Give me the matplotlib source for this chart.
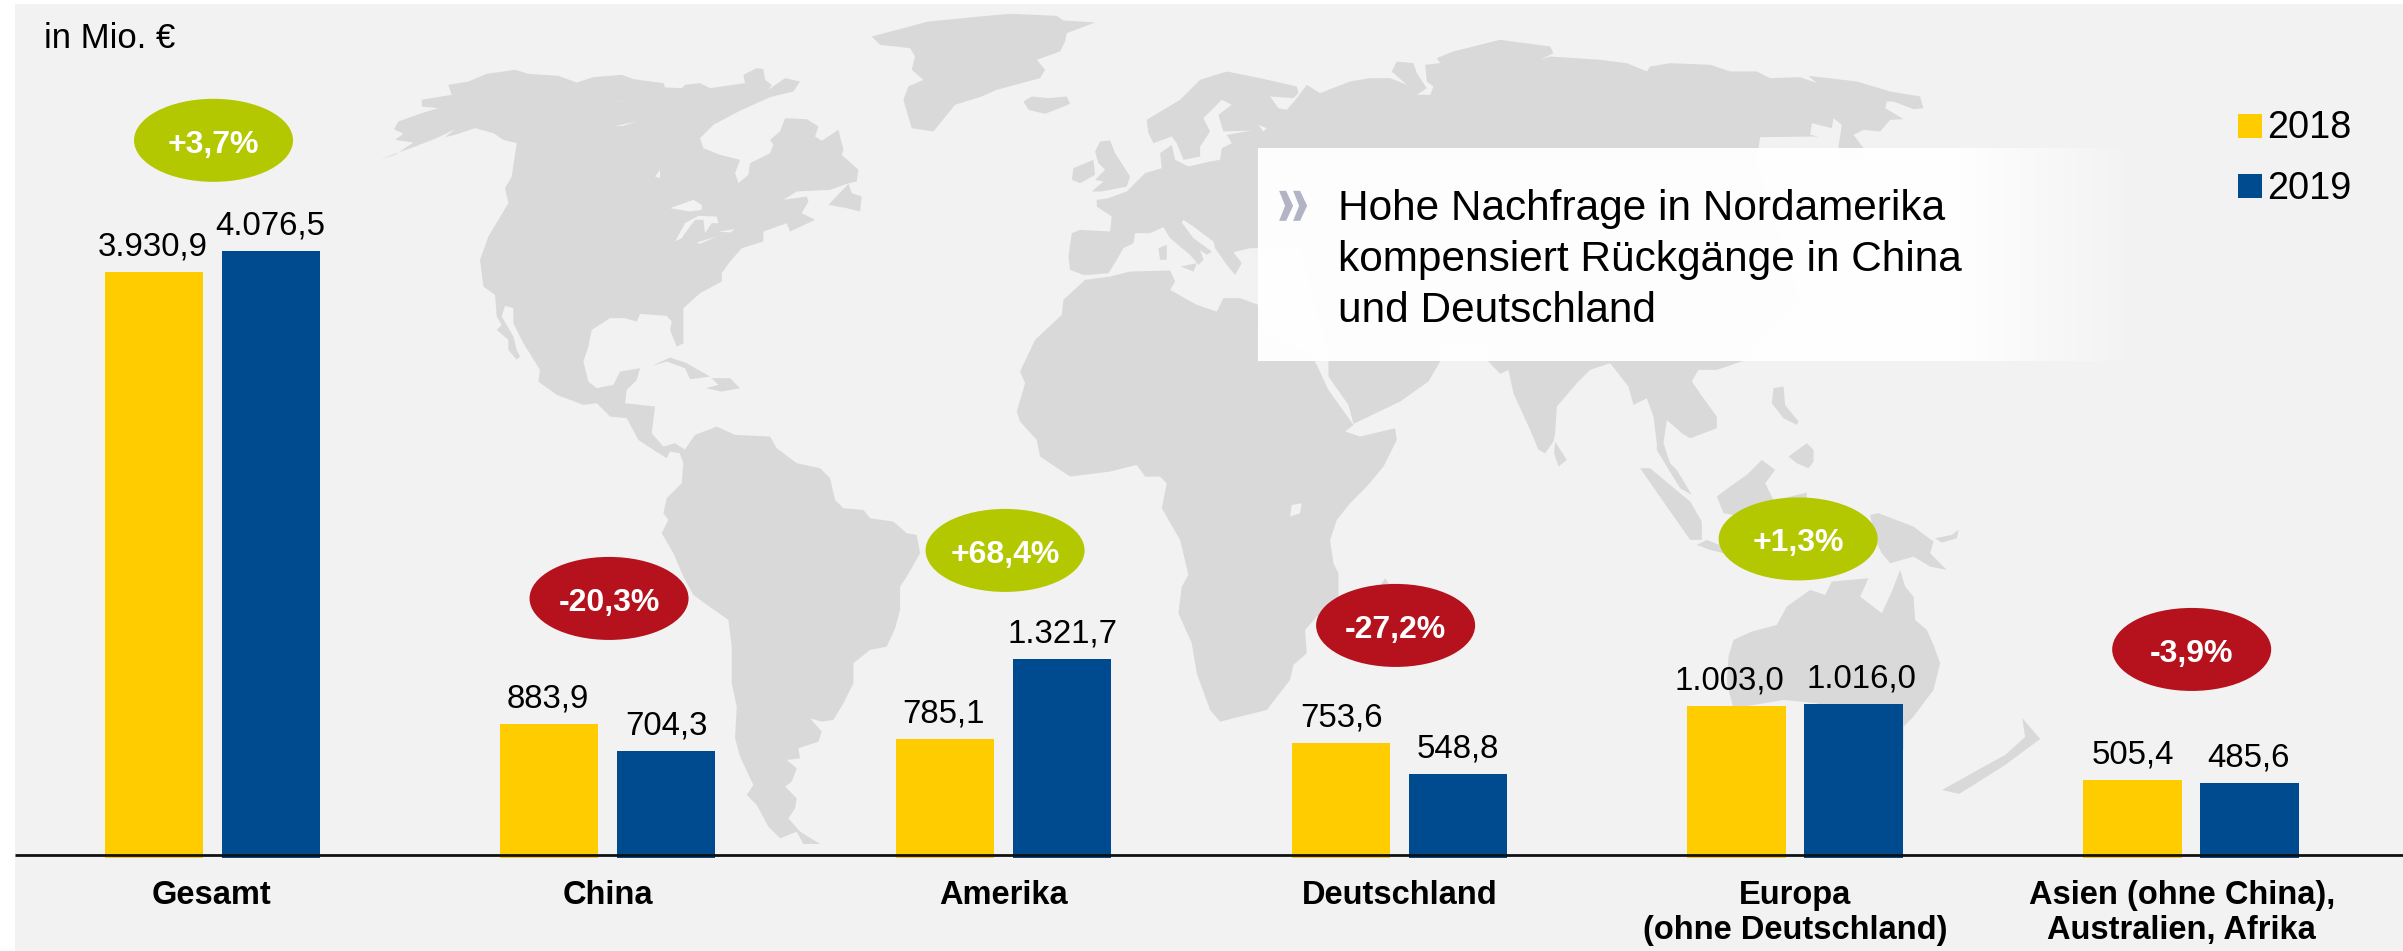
import numpy as np
import matplotlib
matplotlib.use("Agg")
import matplotlib.pyplot as plt
from matplotlib.patches import Ellipse, Polygon, Rectangle

plt.rcParams["font.family"] = ["Liberation Sans", "DejaVu Sans"]

# Chart values
categories = ["Gesamt", "China", "Amerika", "Deutschland", "Europa\n(ohne Deutschland)",
              "Asien (ohne China),\nAustralien, Afrika"]
values_2018 = [3930.9, 883.9, 785.1, 753.6, 1003.0, 505.4]
values_2019 = [4076.5, 704.3, 1321.7, 548.8, 1016.0, 485.6]
labels_2018 = ["3.930,9", "883,9", "785,1", "753,6", "1.003,0", "505,4"]
labels_2019 = ["4.076,5", "704,3", "1.321,7", "548,8", "1.016,0", "485,6"]
changes = ["+3,7%", "-20,3%", "+68,4%", "-27,2%", "+1,3%", "-3,9%"]
headline = ["Hohe Nachfrage in Nordamerika", "kompensiert Rückgänge in China", "und Deutschland"]

# Colours
YELLOW = "#FFCC00"
BLUE = "#004A8F"
GREEN = "#B3C800"
RED = "#B5121D"
PANEL = "#F2F2F2"
LAND = "#D9D9D9"

# Layout, in pixels of the 2403x951 picture
W, H = 2403, 951
BASE_Y = 855
PX_PER_UNIT = 0.1482
group_x = np.array([212.5, 607.5, 1003.5, 1399.5, 1795, 2191])
bar_offset = 58.5
bar_width = 98.5
label_dx_2018 = [-1, -1, -2, 0, -7, 0]
label_dx_2019 = [-1, 0, 0, 0, 8, -1]
bubble_x = [213.5, 609, 1005, 1395.5, 1798, 2191.5]
bubble_y = [140.5, 598.5, 550.5, 625.5, 539, 649.5]
cat_x = [211.5, 607.5, 1003, 1399.5, 1795, 2181.5]


def z(x0, y0, pts, s=3.0):
    return [(x0 + p[0] / s, y0 + p[1] / s) for p in pts]


# Rough outlines of the background map
north_america = z(380, 60, [
    (0, 298), (45, 285), (100, 248), (45, 240), (70, 222), (42, 208), (55, 185), (125, 160), (175, 145),
    (125, 140), (125, 120), (215, 105), (205, 75), (265, 65), (320, 42), (405, 30), (445, 42), (535, 48),
    (590, 68), (640, 52), (725, 45), (760, 58), (850, 70), (855, 83), (905, 85), (915, 75), (960, 70),
    (990, 85), (1060, 75), (1095, 70), (1090, 45), (1130, 25), (1150, 28), (1155, 60), (1175, 75),
    (1165, 90), (1215, 55), (1260, 65), (1240, 95), (1170, 112), (1075, 155), (1000, 195), (960, 235),
    (970, 265), (1020, 285), (1080, 300), (1065, 340), (1075, 370), (1105, 345), (1110, 310), (1170, 280),
    (1180, 255), (1170, 240), (1200, 215), (1215, 175), (1280, 178), (1315, 200), (1305, 230), (1325, 243),
    (1375, 210), (1390, 270), (1385, 285), (1435, 330), (1430, 365), (1400, 372), (1350, 390), (1250, 395),
    (1210, 420), (1280, 410), (1285, 425), (1265, 460), (1305, 480), (1230, 515), (1220, 490), (1150, 515),
    (1150, 545), (1085, 565), (1050, 605), (1025, 640), (1025, 665), (960, 700), (910, 745), (910, 790),
    (910, 850), (890, 860), (870, 810), (875, 785), (860, 768), (780, 762), (770, 785), (735, 775),
    (690, 775), (635, 810), (625, 860), (610, 905), (625, 965), (650, 985), (700, 975), (720, 935),
    (780, 925), (770, 960), (740, 990), (735, 1030), (825, 1040), (815, 1120), (850, 1160), (885, 1150),
    (915, 1170), (900, 1180), (870, 1175), (860, 1195), (820, 1170), (775, 1140), (740, 1075), (690, 1070),
    (650, 1030), (610, 1035), (530, 1005), (475, 965), (480, 930), (430, 850), (400, 790), (400, 745),
    (375, 738), (365, 770), (400, 830), (410, 870), (420, 890), (410, 900), (385, 870), (385, 840),
    (350, 810), (365, 795), (350, 770), (345, 705), (310, 680), (300, 600), (325, 530), (385, 430),
    (375, 385), (395, 350), (410, 250), (370, 240), (340, 220), (285, 205), (225, 225), (195, 232),
    (225, 208), (170, 235), (100, 262),
])
great_lakes = [z(380, 60, p) for p in [
    [(870, 445), (940, 420), (965, 435), (965, 450), (930, 455)],
    [(885, 545), (915, 490), (955, 468), (1010, 470), (1015, 490), (995, 490), (975, 520), (970, 480),
     (945, 480), (915, 520), (905, 535)],
    [(950, 548), (1010, 530), (960, 552)],
    [(1015, 515), (1065, 508), (1050, 518)],
    [(695, 130), (760, 115), (720, 125)],
    [(700, 200), (770, 185), (730, 198)],
    [(825, 350), (840, 330), (840, 355)],
]]
caribbean = [z(380, 60, p) for p in [
    [(815, 918), (870, 893), (920, 910), (990, 950), (930, 958), (915, 925), (860, 905)],
    [(995, 955), (1050, 955), (1080, 985), (1025, 995), (978, 985), (1015, 975)],
    [(1345, 435), (1405, 372), (1415, 400), (1445, 410), (1440, 455), (1400, 445)],
]]
south_america = z(640, 420, [
    (110, 75), (130, 95), (165, 45), (230, 20), (285, 45), (390, 50), (410, 85), (470, 130), (540, 145),
    (570, 175), (585, 240), (610, 265), (670, 270), (690, 295), (760, 305), (800, 340), (830, 345),
    (840, 400), (800, 470), (780, 500), (780, 570), (765, 625), (740, 680), (690, 690), (640, 730),
    (640, 790), (610, 850), (580, 900), (545, 905), (510, 895), (545, 935), (535, 965), (475, 985),
    (480, 1015), (440, 1020), (470, 1045), (455, 1085), (435, 1100), (470, 1135), (465, 1165), (445, 1195),
    (480, 1235), (540, 1272), (490, 1272), (470, 1235), (420, 1255), (385, 1220), (350, 1155), (320, 1125),
    (340, 1095), (300, 1010), (285, 955), (290, 860), (275, 790), (275, 680), (265, 600), (215, 565),
    (160, 525), (130, 470), (100, 400), (65, 340), (85, 300), (70, 280), (80, 235), (125, 190), (130, 130),
])
north_atlantic = [z(860, 0, p) for p in [
    # Greenland
    [(35, 110), (130, 85), (205, 65), (360, 50), (450, 42), (590, 48), (610, 62), (705, 68), (620, 100),
     (615, 125), (600, 155), (530, 180), (555, 210), (540, 235), (410, 270), (365, 290), (285, 315),
     (220, 395), (155, 385), (130, 300), (145, 260), (190, 240), (155, 210), (165, 170), (150, 145), (60, 135)],
    # Iceland
    [(490, 305), (515, 290), (565, 295), (620, 290), (630, 312), (555, 342), (505, 330)],
    # Britain, Ireland
    [(705, 455), (720, 425), (750, 422), (765, 460), (810, 530), (800, 560), (725, 575), (695, 575),
     (730, 545), (705, 540), (735, 510), (715, 490)],
    [(635, 540), (640, 505), (700, 480), (705, 525), (660, 550)],
    # Sardinia, Sicily
    [(895, 745), (920, 735), (920, 780), (900, 780)],
    [(962, 800), (1010, 790), (1000, 815)],
]]
eurasia = z(860, 0, [
    (670, 825), (630, 810), (625, 770), (635, 700), (660, 690), (750, 695), (755, 650), (710, 620), (710, 600),
    (745, 595), (800, 575), (855, 520), (905, 505), (900, 460), (935, 435), (945, 480), (985, 500), (1050, 485),
    (1080, 480), (1085, 445), (1115, 430), (1100, 405), (1175, 392), (1090, 395), (1075, 345), (1115, 315),
    (1085, 300), (1030, 355), (1050, 395), (1020, 440), (1020, 470), (970, 480), (950, 430), (935, 410),
    (880, 430), (865, 400), (860, 360), (960, 300), (1020, 240), (1100, 215), (1200, 235),
]) + z(1150, 30, [
    (440, 170), (445, 190), (430, 205), (360, 200), (385, 235), (410, 240), (440, 205), (470, 165), (510, 190),
    (600, 155), (660, 145), (720, 145), (770, 165), (725, 125), (740, 95), (790, 100), (800, 130), (830, 175),
    (800, 195), (840, 195), (850, 170), (830, 155), (825, 105), (870, 100), (860, 85), (910, 65), (1050, 30),
    (1200, 50), (1210, 70), (1170, 90), (1200, 80), (1350, 90), (1430, 100), (1490, 125), (1500, 110),
]) + z(1650, 60, [
    (60, 10), (180, 15), (240, 35), (320, 35), (360, 55), (450, 52), (500, 70), (475, 48), (620, 65), (720, 95),
    (810, 110), (815, 130), (820, 145), (790, 148), (730, 125), (710, 125), (705, 145), (760, 178), (720, 180),
    (690, 215), (640, 210), (610, 225), (640, 265), (640, 300), (565, 300), (565, 260), (575, 195), (550, 175),
    (545, 205), (485, 190), (480, 225), (505, 230), (330, 232), (325, 265), (320, 300),
]) + [(1800, 300)] + z(1450, 350, [
    (880, 33), (800, 60), (745, 60), (725, 95), (760, 145), (800, 200), (800, 235), (720, 265), (695, 250),
    (650, 210), (640, 280), (660, 340), (680, 360), (725, 435), (690, 415), (650, 350), (620, 300), (620, 280),
    (610, 200), (590, 145), (550, 165), (535, 110), (480, 40), (420, 60), (380, 100), (320, 170), (315, 250),
    (310, 275), (285, 310), (265, 300), (240, 240), (190, 130), (175, 60), (150, 72), (115, 35),
]) + [(1488, 345), (1440, 345)] + z(1000, 250, [
    (1320, 335), (1285, 395), (1200, 455), (1060, 522), (1045, 465), (985, 380), (985, 320),
]) + [(1300, 250)] + z(860, 0, [
    (1197, 745), (1170, 745), (1120, 757), (1145, 790), (1125, 825), (1100, 795), (1065, 745), (1060, 725),
    (1000, 680), (970, 660), (965, 668), (1000, 715), (1055, 755), (1040, 765), (1020, 750), (1030, 780),
    (1015, 795), (990, 765), (930, 715), (910, 682), (870, 700), (825, 700), (820, 730), (790, 745), (770, 780),
    (745, 820), (690, 825),
])
ladoga = z(1150, 30, [(325, 285), (350, 295), (340, 305)])
africa = z(1000, 250, [
    (255, 90), (330, 80), (390, 65), (510, 62), (525, 95), (510, 120), (590, 165), (650, 185), (670, 145),
    (720, 145), (775, 165), (800, 250), (945, 320), (945, 335), (985, 420), (1060, 525), (1035, 545), (1080, 560),
    (1185, 535), (1190, 570), (1150, 650), (1100, 710), (1050, 760), (1010, 810), (990, 870), (1000, 940),
    (1015, 970), (1015, 1040), (950, 1100), (915, 1140), (920, 1210), (880, 1245), (870, 1290), (800, 1380),
    (740, 1395), (660, 1415), (630, 1380), (590, 1270), (575, 1180), (535, 1090), (545, 1010), (565, 975),
    (540, 870), (485, 775), (500, 700), (480, 680), (435, 680), (410, 645), (330, 665), (210, 680), (120, 620),
    (110, 570), (60, 515), (50, 485), (75, 400), (60, 365), (105, 270), (185, 195), (190, 150),
])
lake_victoria = z(1000, 250, [(870, 800), (875, 765), (905, 760), (900, 790)])
madagascar = z(1000, 250, [(1135, 1015), (1155, 985), (1175, 1015)])
asia_pacific = [z(1450, 350, p) for p in [
    # Sri Lanka, Sumatra, Java, Borneo, Celebes
    [(315, 275), (350, 330), (325, 350), (312, 310)],
    [(570, 355), (600, 355), (720, 455), (755, 515), (755, 570), (720, 570), (650, 470)],
    [(740, 585), (770, 570), (820, 590), (820, 610), (780, 600)],
    [(800, 440), (840, 410), (890, 375), (935, 330), (975, 360), (945, 400), (970, 450), (880, 500), (820, 490)],
    [(1000, 445), (1070, 428), (1070, 450), (1000, 450)],
    # New Guinea, New Britain
    [(1260, 495), (1285, 490), (1390, 530), (1450, 575), (1440, 610), (1490, 660), (1440, 650), (1390, 620),
     (1320, 640), (1295, 610), (1275, 570)],
    [(1455, 565), (1505, 555), (1525, 540), (1520, 565), (1475, 578)],
    # Philippines
    [(970, 115), (1000, 110), (1005, 165), (1045, 215), (1040, 225), (1000, 205), (965, 160)],
    [(1015, 320), (1070, 280), (1090, 300), (1090, 335), (1075, 355), (1040, 340)],
    # Australia
    [(835, 920), (850, 870), (905, 845), (980, 825), (1010, 770), (1080, 720), (1125, 735), (1145, 695),
     (1255, 685), (1230, 740), (1295, 790), (1325, 725), (1350, 660), (1365, 710), (1390, 740), (1395, 810),
     (1430, 840), (1450, 885), (1470, 940), (1450, 1020), (1390, 1100), (1360, 1130), (1360, 1200), (1250, 1180),
     (1100, 1060), (1000, 1050), (850, 1075), (830, 1000)],
]]
new_zealand = [(2022, 718), (2040, 739), (2005, 765), (1959, 794), (1942, 790), (1974, 772), (2005, 755), (2025, 737)]


def draw_background(bg):
    """Panel, world map and the white fading text box"""
    bg.add_patch(Rectangle((15, 4), W - 15, H - 4, color=PANEL, lw=0, zorder=0))

    land = [north_america, south_america, eurasia, africa, madagascar, new_zealand]
    land += caribbean + north_atlantic + asia_pacific
    for shape in land:
        bg.add_patch(Polygon(shape, closed=True, color=LAND, lw=0, zorder=1))
    for shape in great_lakes + [ladoga, lake_victoria]:
        bg.add_patch(Polygon(shape, closed=True, color=PANEL, lw=0, zorder=2))

    # White box that fades out to the right
    box_x = np.arange(1258, 2136)
    alpha = np.clip((2135 - box_x) / (2135 - 1950), 0, 1) * 0.98
    rgba = np.ones((1, len(box_x), 4))
    rgba[0, :, 3] = alpha
    bg.imshow(rgba, extent=(1258, 2136, 361, 149), aspect="auto", zorder=3, interpolation="bilinear")
    bg.set_xlim(0, W)
    bg.set_ylim(H, 0)


def draw_box_text(bg):
    # Two chevrons in front of the headline
    for x0 in [1279, 1293]:
        bg.add_patch(Polygon([(x0, 191), (x0 + 7, 191), (x0 + 14, 206), (x0 + 7, 221), (x0, 221), (x0 + 6, 206)],
                             closed=True, color="#B3B3C6", lw=0, zorder=4))
    for text, y in zip(headline, [220, 271, 322]):
        bg.text(1338, y, text, fontsize=30.5, va="baseline", ha="left", color="black", zorder=5)
    bg.text(44, 48, "in Mio. €", fontsize=25, va="baseline", ha="left", color="black", zorder=5)


def draw_legend(bg):
    for name, color, top, y in [("2018", YELLOW, 114, 138), ("2019", BLUE, 174, 199)]:
        bg.add_patch(Rectangle((2238, top), 24, 24.5, color=color, lw=0, zorder=4))
        bg.text(2267, y, name, fontsize=27.3, va="baseline", ha="left", color="black", zorder=5)


def draw_bubbles(bg):
    for x, y, text in zip(bubble_x, bubble_y, changes):
        color = GREEN if text.startswith("+") else RED
        bg.add_patch(Ellipse((x, y), 159, 83, color=color, lw=0, zorder=4))
        bg.text(x, y + 12, text, fontsize=23, fontweight="bold", color="white", ha="center", va="baseline", zorder=5)


def draw_bars(ax):
    # Bars reach a bit below the axis line, as in the original
    under = 3 / PX_PER_UNIT
    ax.bar(group_x - bar_offset, np.array(values_2018) + under, bottom=-under, width=bar_width, color=YELLOW, zorder=2)
    ax.bar(group_x + bar_offset, np.array(values_2019) + under, bottom=-under, width=bar_width, color=BLUE, zorder=2)
    ax.plot([15, W], [0, 0], color="#111111", lw=2.0, zorder=3, solid_capstyle="butt")

    for x, val, text, dx in zip(group_x - bar_offset, values_2018, labels_2018, label_dx_2018):
        ax.annotate(text, (x, val), xytext=(dx * 0.72, 12), textcoords="offset points",
                    ha="center", va="baseline", fontsize=23.8, color="black")
    for x, val, text, dx in zip(group_x + bar_offset, values_2019, labels_2019, label_dx_2019):
        ax.annotate(text, (x, val), xytext=(dx * 0.72, 12), textcoords="offset points",
                    ha="center", va="baseline", fontsize=23.8, color="black")


def draw_categories(bg):
    for x, text in zip(cat_x, categories):
        for i, line in enumerate(text.split("\n")):
            bg.text(x, 904 + i * 35, line, fontsize=23.5, fontweight="bold", ha="center", va="baseline",
                    color="black", zorder=5)


def main():
    # The extra bit keeps the saved size from rounding down a pixel
    fig = plt.figure(figsize=((W + 0.2) / 100, (H + 0.2) / 100), dpi=100, facecolor="white")

    bg = fig.add_axes([0, 0, 1, 1], zorder=0)
    bg.axis("off")
    draw_background(bg)
    draw_box_text(bg)
    draw_legend(bg)
    draw_bubbles(bg)
    draw_categories(bg)

    # Value axis set up so the baseline lands at BASE_Y
    ax = fig.add_axes([0, 0, 1, 1], zorder=1)
    ax.patch.set_alpha(0)
    ax.axis("off")
    ax.set_xlim(0, W)
    ax.set_ylim(-(H - BASE_Y) / PX_PER_UNIT, BASE_Y / PX_PER_UNIT)
    draw_bars(ax)

    fig.savefig("out.png", dpi=100)
    plt.close(fig)


if __name__ == "__main__":
    main()
